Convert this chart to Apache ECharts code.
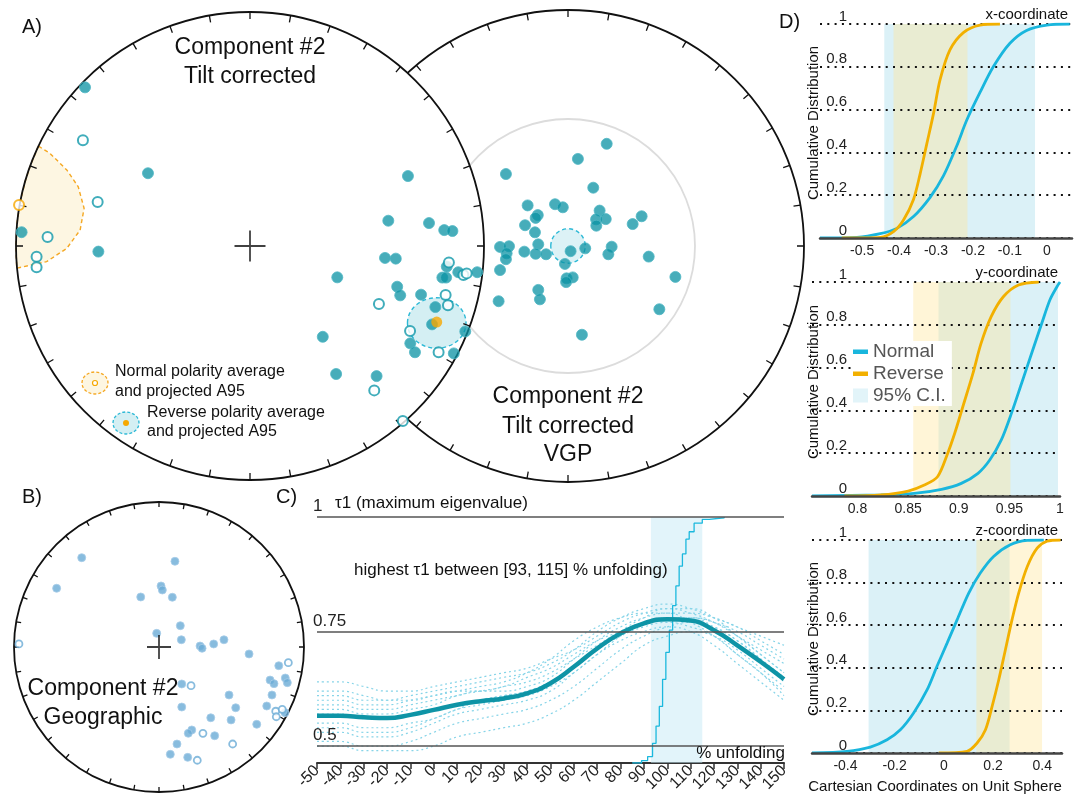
<!DOCTYPE html>
<html><head><meta charset="utf-8">
<script src="https://cdn.jsdelivr.net/npm/echarts@6/dist/echarts.min.js"></script>
<style>html,body{margin:0;padding:0;background:#fff}#c{width:1084px;height:799px}</style>
</head><body><div id="c"></div>
<script>
// ---------- DATA (equal-area stereonet coordinates on the unit disk) ----------
const A_filled = [[-0.705,0.678],[-0.436,0.311],[-0.648,-0.024],[-0.976,0.059],[0.675,0.299],[0.591,0.108],[0.765,0.098],[0.830,0.068],[0.865,0.064],[0.577,-0.051],[0.623,-0.054],[0.373,-0.134],[0.629,-0.174],[0.642,-0.211],[0.731,-0.208],[0.792,-0.261],[0.778,-0.335],[0.822,-0.135],[0.838,-0.135],[0.841,-0.088],[0.890,-0.112],[0.971,-0.112],[0.920,-0.365],[0.685,-0.416],[0.705,-0.454],[0.871,-0.459],[0.311,-0.388],[0.368,-0.547],[0.541,-0.556]];
const A_open = [[-0.714,0.452],[-0.651,0.188],[-0.865,0.038],[-0.912,-0.046],[-0.912,-0.091],[0.850,-0.070],[0.912,-0.124],[0.926,-0.117],[0.836,-0.209],[0.846,-0.253],[0.551,-0.248],[0.684,-0.363],[0.806,-0.454],[0.531,-0.617],[0.653,-0.748]];
const A_normalMean = [[-0.987,0.175]];
const A_reverseMean = [[0.798,-0.325]];
const A_reverseA95 = [[0.798,-0.329,0.125,0.108]];          // cx, cy, rx, ry
const A_normalA95 = [[-0.904,0.427],[-0.855,0.396],[-0.783,0.325],[-0.734,0.253],[-0.709,0.161],[-0.726,0.068],[-0.783,-0.010],[-0.869,-0.067],[-0.997,-0.095],[-1.0,0.0],[-0.995,0.103],[-0.980,0.197],[-0.959,0.282],[-0.938,0.346]];
const VGP_points = [[0.164,0.433],[0.042,0.369],[-0.263,0.305],[0.107,0.247],[-0.171,0.172],[-0.055,0.177],[-0.022,0.164],[-0.128,0.131],[-0.137,0.119],[-0.182,0.088],[0.134,0.150],[0.119,0.113],[0.160,0.114],[0.120,0.086],[0.312,0.126],[0.274,0.093],[-0.140,0.058],[-0.288,-0.004],[-0.250,-0.001],[-0.260,-0.031],[-0.263,-0.056],[-0.126,0.007],[-0.185,-0.024],[-0.137,-0.033],[-0.093,-0.035],[0.011,-0.022],[0.073,-0.010],[0.185,-0.003],[0.171,-0.035],[-0.013,-0.076],[-0.288,-0.102],[-0.006,-0.137],[0.020,-0.133],[-0.008,-0.153],[0.342,-0.045],[0.455,-0.131],[-0.126,-0.186],[-0.119,-0.226],[-0.294,-0.234],[0.387,-0.268],[0.059,-0.376]];
const VGP_a95 = [[0,0,0.073,0.073]];
const B_filled = [[-0.533,0.616],[0.110,0.591],[-0.706,0.405],[0.014,0.421],[0.023,0.393],[-0.126,0.345],[0.092,0.343],[0.147,0.147],[-0.016,0.094],[0.154,0.050],[0.283,0.007],[0.297,-0.009],[0.377,0.021],[0.448,0.050],[0.621,-0.048],[0.826,-0.129],[0.766,-0.228],[0.793,-0.253],[0.871,-0.214],[0.885,-0.246],[0.157,-0.255],[0.483,-0.331],[0.779,-0.331],[0.157,-0.414],[0.529,-0.419],[0.743,-0.407],[0.357,-0.488],[0.497,-0.503],[0.674,-0.533],[0.869,-0.453],[0.226,-0.572],[0.202,-0.595],[0.384,-0.612],[0.124,-0.669],[0.078,-0.740],[0.198,-0.761]];
const B_open = [[-0.966,0.021],[0.221,-0.267],[0.303,-0.595],[0.508,-0.669],[0.264,-0.781],[0.805,-0.443],[0.809,-0.481],[0.850,-0.430],[0.892,-0.108]];

// Panel C: tau1 vs % unfolding
const C_unfold = [-50,-40,-30,-20,-10,0,10,20,30,40,50,60,70,80,90,100,110,120,130,140,150];
const C_tau = [0.566,0.566,0.563,0.561,0.568,0.579,0.590,0.598,0.604,0.615,0.637,0.673,0.713,0.746,0.768,0.777,0.774,0.753,0.720,0.684,0.646];
const boot01 = [0.64,0.64,0.63,0.62,0.62,0.63,0.64,0.65,0.66,0.67,0.69,0.71,0.74,0.77,0.79,0.80,0.79,0.77,0.74,0.71,0.68];
const boot02 = [0.61,0.61,0.60,0.60,0.61,0.62,0.63,0.64,0.65,0.66,0.68,0.71,0.75,0.78,0.80,0.81,0.80,0.78,0.76,0.73,0.70];
const boot03 = [0.59,0.59,0.58,0.58,0.59,0.60,0.61,0.62,0.62,0.63,0.65,0.69,0.73,0.76,0.78,0.79,0.79,0.78,0.76,0.74,0.72];
const boot04 = [0.57,0.57,0.56,0.56,0.57,0.58,0.59,0.60,0.61,0.62,0.64,0.67,0.71,0.74,0.76,0.77,0.76,0.74,0.70,0.66,0.62];
const boot05 = [0.55,0.55,0.54,0.54,0.55,0.56,0.58,0.59,0.60,0.61,0.63,0.66,0.70,0.73,0.75,0.76,0.75,0.72,0.68,0.64,0.60];
const boot06 = [0.53,0.53,0.52,0.52,0.53,0.55,0.57,0.58,0.59,0.60,0.62,0.66,0.70,0.74,0.77,0.78,0.78,0.77,0.74,0.70,0.66];
const boot07 = [0.51,0.51,0.50,0.50,0.51,0.53,0.55,0.56,0.57,0.58,0.60,0.63,0.67,0.71,0.74,0.76,0.77,0.76,0.73,0.69,0.65];
const boot08 = [0.50,0.50,0.49,0.49,0.49,0.50,0.52,0.53,0.54,0.55,0.57,0.60,0.64,0.68,0.72,0.74,0.75,0.74,0.71,0.67,0.63];
const boot09 = [0.62,0.62,0.61,0.60,0.60,0.61,0.62,0.63,0.64,0.66,0.69,0.73,0.76,0.78,0.79,0.79,0.77,0.74,0.70,0.66,0.61];
const boot10 = [0.58,0.58,0.57,0.57,0.58,0.59,0.61,0.62,0.63,0.65,0.67,0.70,0.73,0.75,0.77,0.78,0.78,0.76,0.73,0.69,0.64];
const boot11 = [0.54,0.54,0.53,0.53,0.54,0.56,0.58,0.60,0.61,0.62,0.64,0.67,0.71,0.75,0.78,0.80,0.80,0.78,0.74,0.70,0.66];
const boot12 = [0.60,0.60,0.59,0.59,0.60,0.61,0.62,0.62,0.63,0.64,0.66,0.69,0.72,0.75,0.77,0.78,0.78,0.77,0.75,0.72,0.69];
const C_cdf = [[85,0],[89,0.01],[91.6,0.026],[93.7,0.08],[95.2,0.15],[96.6,0.23],[98,0.34],[99.4,0.45],[100.9,0.54],[102.3,0.64],[103.7,0.72],[105.1,0.80],[106.5,0.85],[108,0.91],[109.4,0.94],[111.5,0.975],[115,0.99],[118,0.997],[124.4,1.0]];
const C_band = [93,115];
const C_levels = [0.5,0.75,1];

// Panel D: cumulative distributions
const Dx_normal = [[-0.614,0],[-0.514,0.003],[-0.451,0.02],[-0.406,0.045],[-0.361,0.10],[-0.316,0.19],[-0.280,0.29],[-0.244,0.43],[-0.217,0.55],[-0.181,0.68],[-0.145,0.80],[-0.100,0.91],[-0.055,0.97],[0,0.995],[0.062,1.0]];
const Dx_reverse = [[-0.555,0],[-0.451,0.003],[-0.415,0.03],[-0.388,0.084],[-0.361,0.18],[-0.343,0.30],[-0.325,0.44],[-0.307,0.58],[-0.289,0.74],[-0.262,0.88],[-0.226,0.96],[-0.181,0.995],[-0.127,1.0]];
const Dy_normal = [[0.755,0],[0.823,0.005],[0.856,0.012],[0.883,0.031],[0.9025,0.059],[0.919,0.106],[0.9306,0.168],[0.942,0.262],[0.952,0.386],[0.962,0.526],[0.972,0.667],[0.982,0.807],[0.990,0.916],[0.997,0.978],[1.0,1.0]];
const Dy_reverse = [[0.787,0],[0.823,0.005],[0.85,0.023],[0.866,0.051],[0.879,0.090],[0.889,0.199],[0.896,0.293],[0.904,0.417],[0.914,0.573],[0.922,0.713],[0.932,0.838],[0.944,0.931],[0.959,0.986],[0.979,1.0]];
const Dz_normal = [[-0.536,0],[-0.394,0.008],[-0.299,0.028],[-0.231,0.062],[-0.177,0.109],[-0.123,0.188],[-0.068,0.297],[-0.028,0.407],[0.013,0.516],[0.054,0.626],[0.101,0.751],[0.148,0.845],[0.202,0.923],[0.270,0.978],[0.339,0.998],[0.406,1.0]];
const Dz_reverse = [[-0.021,0],[0.094,0.008],[0.135,0.047],[0.169,0.109],[0.196,0.219],[0.223,0.344],[0.250,0.485],[0.277,0.626],[0.304,0.751],[0.339,0.876],[0.379,0.962],[0.419,0.994],[0.474,1.0]];
const Dx_ciNormal = [-0.44,-0.032], Dx_ciReverse = [-0.415,-0.215];
const Dy_ciNormal = [0.880,0.998], Dy_ciReverse = [0.855,0.951];
const Dz_ciNormal = [-0.306,0.267], Dz_ciReverse = [0.132,0.399];
const Dx_ticks = [-0.5,-0.4,-0.3,-0.2,-0.1,0];
const Dy_ticks = [0.8,0.85,0.9,0.95,1];
const Dz_ticks = [-0.4,-0.2,0,0.2,0.4];
const Dx_range = [-0.614,0.068], Dy_range = [0.755,1.0], Dz_range = [-0.536,0.48];

// ---------- STYLE ----------
const FONT = '"Liberation Sans", Arial, Helvetica, sans-serif';
const TEAL = 'rgba(10,146,164,0.94)', TEAL_EDGE = '#4fb7c4', ORANGE = '#f6a800';
const SKY = '#6aabd6', SKY_EDGE = '#a9cde9';
const CYAN = '#19b6dd', GOLD = '#f2b000';

const chart = echarts.init(document.getElementById('c'), null, {renderer:'canvas'});

function unitAxis(g){ return {type:'value', gridIndex:g, min:-1, max:1, show:false}; }
function ellipseRender(fill, stroke){
  return function(params, api){
    const c = api.coord([api.value(0), api.value(1)]);
    const s = api.size([api.value(2), api.value(3)]);
    return {type:'ellipse', shape:{cx:c[0], cy:c[1], rx:s[0], ry:s[1]},
      style:{fill:fill, stroke:stroke, lineWidth:1.4, lineDash:[4,3]}};
  };
}
function polyRender(points, fill, stroke){
  return function(params, api){
    if (params.dataIndex !== 0) return null;
    return {type:'polygon', shape:{points: points.map(p => api.coord(p))},
      style:{fill:fill, stroke:stroke, lineWidth:1.4, lineDash:[4,3]}};
  };
}
function dots(data, g, size, fill, edge, bw, z){
  return {type:'scatter', xAxisIndex:g, yAxisIndex:g, data:data, symbolSize:size, z:z||4, silent:true,
    itemStyle:{color:fill, borderColor:edge, borderWidth:bw}};
}
function cross(g, size){
  return {type:'scatter', xAxisIndex:g, yAxisIndex:g, data:[[0,0]], z:5, silent:true,
    symbol:'path://M0,15H30M15,0V30', symbolSize:size,
    itemStyle:{color:'transparent', borderColor:'#111', borderWidth:1.8}};
}
function angleAx(p, z, tickLen, color, showTick){
  return {polarIndex:p, type:'value', min:0, max:360, interval:10, startAngle:90, z:z,
    axisLine:{lineStyle:{color:color, width:1.8}},
    axisTick:{show:showTick, inside:true, length:tickLen, lineStyle:{color:color, width:1.3}},
    axisLabel:{show:false}, splitLine:{show:false}};
}
function dXAxis(g, range, ticks){
  return {type:'value', gridIndex:g, min:range[0], max:range[1], z:4,
    axisLine:{lineStyle:{color:'#444', width:2.5}}, axisTick:{show:false}, splitLine:{show:false},
    axisLabel:{customValues:ticks, fontSize:14, color:'#222', fontFamily:FONT, margin:6}};
}
function dYAxis(g, margin){
  return {type:'value', gridIndex:g, min:0, max:1, interval:0.2, z:2,
    axisLine:{show:false}, axisTick:{show:false},
    splitLine:{show:true, lineStyle:{color:'#111', width:2, type:[2,5.3]}},
    axisLabel:{inside:true, align:'right', verticalAlign:'bottom', margin:margin, fontSize:15, color:'#222', fontFamily:FONT}};
}

const series = [];
// ----- Panel A -----
series.push({type:'custom', xAxisIndex:0, yAxisIndex:0, z:2, silent:true, data:A_normalA95,
  renderItem: polyRender(A_normalA95, '#fdf6e2', '#f5a823')});
series.push({type:'custom', xAxisIndex:0, yAxisIndex:0, z:2, silent:true, data:A_reverseA95,
  renderItem: ellipseRender('#d4eff3', '#2cb9d6')});
series.push(dots(A_filled, 0, 11, TEAL, TEAL_EDGE, 1));
series.push(dots(A_open, 0, 10, '#fff', '#1098aa', 2));
series.push(dots(A_normalMean, 0, 10, '#fff', ORANGE, 2, 5));
series.push(dots(A_reverseMean, 0, 11, ORANGE, ORANGE, 0, 5));
series.push(cross(0, 31));
// ----- VGP -----
series.push({type:'custom', xAxisIndex:1, yAxisIndex:1, z:2, silent:true, data:VGP_a95,
  renderItem: ellipseRender('#dcf2f6', '#2cb9d6')});
series.push(dots(VGP_points, 1, 11, TEAL, TEAL_EDGE, 1));
// ----- Panel B -----
series.push(dots(B_filled, 2, 8, SKY, SKY_EDGE, 1));
series.push(dots(B_open, 2, 7, '#fff', SKY, 1.8));
series.push(cross(2, 24));
// ----- Panel C -----
[boot01,boot02,boot03,boot04,boot05,boot06,boot07,boot08,boot09,boot10,boot11,boot12].forEach((b, i) => {
  const s = {type:'line', xAxisIndex:3, yAxisIndex:3, data:C_unfold.map((x,k)=>[x,b[k]]),
    smooth:true, showSymbol:false, silent:true, z:2,
    lineStyle:{color:'#86d4e8', width:1.2, type:[2,3]}};
  if (i === 0) s.markArea = {silent:true, itemStyle:{color:'rgba(198,234,246,0.5)'},
    data:[[{xAxis:C_band[0]},{xAxis:C_band[1]}]]};
  series.push(s);
});
series.push({type:'line', xAxisIndex:3, yAxisIndex:7, data:C_cdf, step:'end', showSymbol:false, silent:true, z:3,
  lineStyle:{color:'#1bb8dd', width:1.3}});
series.push({type:'line', xAxisIndex:3, yAxisIndex:3, data:C_unfold.map((x,k)=>[x,C_tau[k]]),
  smooth:true, showSymbol:false, silent:true, z:4, lineStyle:{color:'#0e94a6', width:4.5},
  markLine:{silent:true, symbol:'none', lineStyle:{color:'#555', width:1.5, type:'solid'},
    label:{position:'insideStartTop', formatter:p=>String(p.value), fontSize:17, color:'#222', fontFamily:FONT, distance:[-4,2]},
    data:C_levels.map(v=>({yAxis:v}))}});
// ----- Panel D -----
[[Dx_normal,Dx_reverse,Dx_ciNormal,Dx_ciReverse],[Dy_normal,Dy_reverse,Dy_ciNormal,Dy_ciReverse],[Dz_normal,Dz_reverse,Dz_ciNormal,Dz_ciReverse]].forEach((d,k)=>{
  const g = 4 + k;
  series.push({type:'scatter', name:'95% C.I.', xAxisIndex:g, yAxisIndex:g, data:[], z:1, silent:true,
    itemStyle:{color:'#dbf1f7'},
    markArea:{silent:true, itemStyle:{color:'#dbf1f7'}, data:[[{xAxis:d[2][0]},{xAxis:d[2][1]}]]}});
  series.push({type:'scatter', name:'Reverse C.I.', xAxisIndex:g, yAxisIndex:g, data:[], z:1, silent:true,
    itemStyle:{color:'rgba(255,230,150,0.38)'},
    markArea:{silent:true, itemStyle:{color:'rgba(255,230,150,0.38)'}, data:[[{xAxis:d[3][0]},{xAxis:d[3][1]}]]}});
  series.push({type:'line', name:'Normal', xAxisIndex:g, yAxisIndex:g, data:d[0], smooth:0.3,
    showSymbol:false, silent:true, z:3, color:CYAN, lineStyle:{color:CYAN, width:2.8}});
  series.push({type:'line', name:'Reverse', xAxisIndex:g, yAxisIndex:g, data:d[1], smooth:0.3,
    showSymbol:false, silent:true, z:3, color:GOLD, lineStyle:{color:GOLD, width:2.8}});
});

// ---------- text & decoration ----------
function txt(x, y, text, size, align, extra){
  return Object.assign({type:'text', x:x, y:y, z:20, silent:true,
    style:{text:text, fontSize:size, fontFamily:FONT, fill:'#111', align:align||'center', verticalAlign:'middle'}}, extra||{});
}
const graphics = [
  {type:'circle', shape:{cx:250, cy:246, r:234}, style:{fill:'#fff'}, z:1, silent:true},
  txt(22,27,'A)',20,'left'), txt(22,497,'B)',20,'left'), txt(276,497,'C)',20,'left'), txt(779,22,'D)',20,'left'),
  txt(250,48,'Component #2',23), txt(250,77,'Tilt corrected',23),
  txt(568,397,'Component #2',23), txt(568,427,'Tilt corrected',23), txt(568,455,'VGP',23),
  txt(103,689,'Component #2',23), txt(103,718,'Geographic',23),
  {type:'ellipse', shape:{cx:95, cy:383, rx:13, ry:11}, style:{fill:'#fdf6e2', stroke:'#f5a823', lineWidth:1.3, lineDash:[3,2]}, z:10, silent:true},
  {type:'circle', shape:{cx:95, cy:383, r:2.5}, style:{fill:'#fff', stroke:ORANGE, lineWidth:1.2}, z:11, silent:true},
  {type:'ellipse', shape:{cx:126, cy:423, rx:13, ry:11}, style:{fill:'#d4eff3', stroke:'#2cb9d6', lineWidth:1.3, lineDash:[3,2]}, z:10, silent:true},
  {type:'circle', shape:{cx:126, cy:423, r:3}, style:{fill:ORANGE}, z:11, silent:true},
  txt(115,372,'Normal polarity average',16,'left'), txt(115,392,'and projected A95',16,'left'),
  txt(147,413,'Reverse polarity average',16,'left'), txt(147,432,'and projected A95',16,'left'),
  txt(335,503,'τ1 (maximum eigenvalue)',17,'left'),
  txt(354,570,'highest τ1 between [93, 115] % unfolding)',17,'left'),
  txt(785,753,'% unfolding',17,'right'),
  txt(1068,15,'x-coordinate',15,'right'), txt(1058,273,'y-coordinate',15,'right'), txt(1058,531,'z-coordinate',15,'right'),
  txt(814,123,'Cumulative Distribution',15,'center',{rotation:Math.PI/2}),
  txt(814,382,'Cumulative Distribution',15,'center',{rotation:Math.PI/2}),
  txt(814,639,'Cumulative Distribution',15,'center',{rotation:Math.PI/2}),
  txt(935,787,'Cartesian Coordinates on Unit Sphere',15,'center')
];

const lineIcon = 'path://M0,0M15,14M0,5H15V9.5H0Z';
const option = {
  animation:false,
  backgroundColor:'#fff',
  textStyle:{fontFamily:FONT},
  grid:[
    {left:16, top:12, width:468, height:468},
    {left:332, top:10, width:472, height:472},
    {left:14, top:502, width:290, height:290},
    {left:317, top:517, width:467, height:246},
    {left:820, top:24, width:252, height:214},
    {left:812, top:282, width:248, height:214},
    {left:812, top:540, width:250, height:213}
  ],
  xAxis:[unitAxis(0), unitAxis(1), unitAxis(2),
    {type:'value', gridIndex:3, min:-50, max:150, interval:10,
      axisLine:{lineStyle:{color:'#333', width:2}}, axisTick:{length:6, lineStyle:{color:'#333', width:1.5}},
      splitLine:{show:false}, axisLabel:{rotate:45, fontSize:16, color:'#222', margin:5, fontFamily:FONT}},
    dXAxis(4, Dx_range, Dx_ticks), dXAxis(5, Dy_range, Dy_ticks), dXAxis(6, Dz_range, Dz_ticks)],
  yAxis:[unitAxis(0), unitAxis(1), unitAxis(2),
    {type:'value', gridIndex:3, min:0.463, max:1, show:false},
    dYAxis(4, 27), dYAxis(5, 35), dYAxis(6, 35),
    {type:'value', gridIndex:3, min:0, max:1, show:false}],
  polar:[
    {center:[568,246], radius:236},
    {center:[568,246], radius:127},
    {center:[250,246], radius:234},
    {center:[159,647], radius:145}
  ],
  angleAxis:[angleAx(0,0,7,'#111',true), angleAx(1,0,0,'#dcdcdc',false), angleAx(2,3,7,'#111',true), angleAx(3,3,5,'#111',true)],
  radiusAxis:[{polarIndex:0, show:false},{polarIndex:1, show:false},{polarIndex:2, show:false},{polarIndex:3, show:false}],
  legend:{left:852, top:341, orient:'vertical', backgroundColor:'#fff', padding:[1,6,1,1], itemGap:3,
    itemWidth:15, itemHeight:14, selectedMode:false, z:6,
    textStyle:{fontSize:19, color:'#555', fontFamily:FONT},
    data:[{name:'Normal', icon:lineIcon, itemStyle:{color:CYAN}},
          {name:'Reverse', icon:lineIcon, itemStyle:{color:GOLD}},
          {name:'95% C.I.', icon:'rect', itemStyle:{color:'#dbf1f7'}}]},
  graphic:graphics,
  series:series
};
chart.setOption(option);
</script></body></html>
